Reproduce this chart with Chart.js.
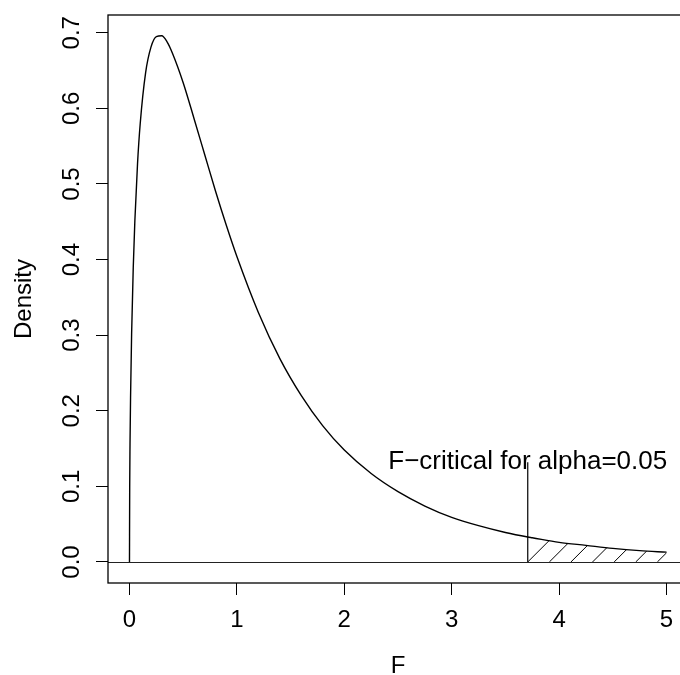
<!DOCTYPE html>
<html>
<head>
<meta charset="utf-8">
<script src="https://cdn.jsdelivr.net/npm/chart.js@4.4.1/dist/chart.umd.min.js"></script>
<style>
html, body { margin: 0; padding: 0; background: #fff; overflow: hidden; }
canvas { display: block; }
</style>
</head>
<body>
<canvas id="c" width="700" height="675"></canvas>
<script>
// F density curve (df 3, 10)
const fValues = [0, 0.002, 0.005, 0.01, 0.02, 0.035, 0.05, 0.075, 0.1,
  0.15, 0.2, 0.25, 0.3, 0.35, 0.4, 0.5, 0.6, 0.7, 0.8, 0.9, 1.0,
  1.2, 1.4, 1.6, 1.8, 2.0, 2.25, 2.5, 2.75, 3.0, 3.25, 3.5,
  3.708, 3.75, 4.0, 4.25, 4.5, 4.75, 5.0];
const density = [0, 0.099, 0.156, 0.218, 0.303, 0.389, 0.451, 0.527, 0.580,
  0.647, 0.681, 0.695, 0.696, 0.688, 0.673, 0.634, 0.587, 0.539, 0.491, 0.446, 0.404,
  0.330, 0.269, 0.220, 0.180, 0.148, 0.117, 0.093, 0.074, 0.059, 0.048, 0.039,
  0.033, 0.032, 0.026, 0.022, 0.018, 0.015, 0.013];

const critX = 3.708;
const critTop = 0.132;
const critLabel = "F\u2212critical for alpha=0.05";

const xTicks = [0, 1, 2, 3, 4, 5];
const xTickLabels = ["0", "1", "2", "3", "4", "5"];
const yTicks = [0, 0.1, 0.2, 0.3, 0.4, 0.5, 0.6, 0.7];
const yTickLabels = ["0.0", "0.1", "0.2", "0.3", "0.4", "0.5", "0.6", "0.7"];
const xRange = [-0.2, 5.2];
const yRange = [-0.0278, 0.7235];

const FONT = "24px 'Liberation Sans', Arial, sans-serif";
const LABEL_FONT = "26px 'Liberation Sans', Arial, sans-serif";

const curve = fValues.map((x, i) => ({ x: x, y: density[i] }));
const tail = curve.filter(p => p.x >= critX);

// hatching, box, abline and text drawn the way base R does it
const rBase = {
  id: "rBase",
  afterDatasetsDraw(chart) {
    const { ctx, chartArea: a } = chart;
    const xs = chart.scales.x, ys = chart.scales.y;
    const y0 = ys.getPixelForValue(0);

    // hatched tail
    ctx.save();
    ctx.beginPath();
    ctx.moveTo(xs.getPixelForValue(critX), y0);
    tail.forEach(p => ctx.lineTo(xs.getPixelForValue(p.x), ys.getPixelForValue(p.y)));
    ctx.lineTo(xs.getPixelForValue(tail[tail.length - 1].x), y0);
    ctx.closePath();
    ctx.clip();
    ctx.strokeStyle = "#000";
    ctx.lineWidth = 1;
    const c0 = xs.getPixelForValue(critX) + y0;
    for (let k = 0; k < 12; k++) {
      const c = c0 + k * 21.6;
      ctx.beginPath();
      ctx.moveTo(c - y0, y0);
      ctx.lineTo(c - (y0 - 60), y0 - 60);
      ctx.stroke();
    }
    ctx.restore();

    // abline h = 0
    ctx.save();
    ctx.strokeStyle = "#222";
    ctx.lineWidth = 1;
    ctx.beginPath();
    ctx.moveTo(a.left, Math.round(y0) + 0.5);
    ctx.lineTo(a.right, Math.round(y0) + 0.5);
    ctx.stroke();

    // box
    ctx.strokeStyle = "#000";
    ctx.lineWidth = 1.3;
    ctx.strokeRect(a.left, a.top, a.right - a.left, a.bottom - a.top);

    // texts
    ctx.fillStyle = "#000";
    ctx.font = FONT;
    ctx.textAlign = "center";
    ctx.textBaseline = "alphabetic";
    xTicks.forEach((v, i) => ctx.fillText(xTickLabels[i], xs.getPixelForValue(v), 627));
    yTicks.forEach((v, i) => {
      ctx.save();
      ctx.translate(79, ys.getPixelForValue(v));
      ctx.rotate(-Math.PI / 2);
      ctx.fillText(yTickLabels[i], 0, 0);
      ctx.restore();
    });
    ctx.fillText("F", (a.left + a.right) / 2, 673);
    ctx.save();
    ctx.translate(30.5, (a.top + a.bottom) / 2);
    ctx.rotate(-Math.PI / 2);
    ctx.fillText("Density", 0, 0);
    ctx.restore();
    ctx.font = LABEL_FONT;
    ctx.fillText(critLabel, xs.getPixelForValue(critX), 469);
    ctx.restore();
  }
};

new Chart(document.getElementById("c"), {
  type: "line",
  data: {
    datasets: [
      {
        data: curve,
        borderColor: "#000",
        borderWidth: 1.4,
        pointRadius: 0,
        cubicInterpolationMode: "monotone",
        fill: false,
      },
      {
        data: [{ x: critX, y: 0 }, { x: critX, y: critTop }],
        borderColor: "#000",
        borderWidth: 1.2,
        pointRadius: 0,
        fill: false,
      },
    ],
  },
  options: {
    responsive: false,
    animation: false,
    events: [],
    layout: { padding: { top: 15, right: 12, left: 0, bottom: 0 } },
    plugins: { legend: { display: false }, tooltip: { enabled: false } },
    scales: {
      x: {
        type: "linear",
        min: xRange[0],
        max: xRange[1],
        afterBuildTicks: s => { s.ticks = xTicks.map(v => ({ value: v })); },
        afterFit: s => { s.height = 92; },
        ticks: { display: false },
        border: { display: false },
        grid: { drawOnChartArea: false, drawTicks: true, tickLength: 12, color: "#000", lineWidth: 1 },
      },
      y: {
        type: "linear",
        min: yRange[0],
        max: yRange[1],
        afterBuildTicks: s => { s.ticks = yTicks.map(v => ({ value: v })); },
        afterFit: s => { s.width = 108; },
        ticks: { display: false },
        border: { display: false },
        grid: { drawOnChartArea: false, drawTicks: true, tickLength: 12, color: "#000", lineWidth: 1 },
      },
    },
  },
  plugins: [rBase],
});
</script>
</body>
</html>
